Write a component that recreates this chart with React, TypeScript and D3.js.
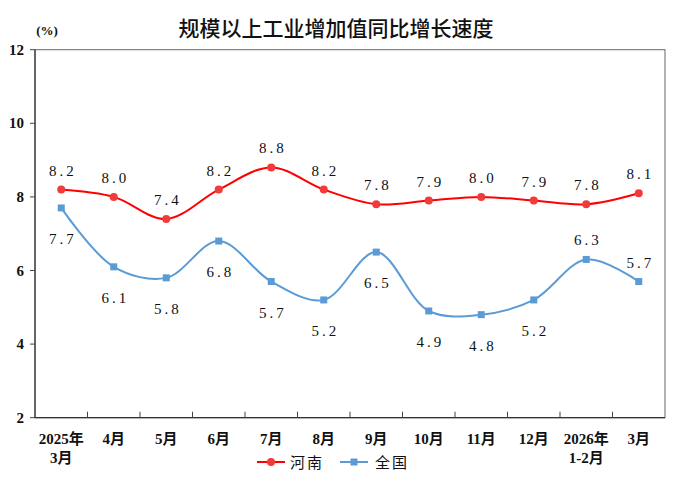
import React from "react";
import * as d3 from "d3";

const categories = ["2025年\n3月", "4月", "5月", "6月", "7月", "8月", "9月", "10月", "11月", "12月", "2026年\n1-2月", "3月"];
const henan = [8.2, 8.0, 7.4, 8.2, 8.8, 8.2, 7.8, 7.9, 8.0, 7.9, 7.8, 8.1];
const national = [7.7, 6.1, 5.8, 6.8, 5.7, 5.2, 6.5, 4.9, 4.8, 5.2, 6.3, 5.7];
// label placement for the national series: 1 = below the point, -1 = above
const nationalLabelSide = [1, 1, 1, 1, 1, 1, 1, 1, 1, 1, -1, -1];
const yTicks = [2, 4, 6, 8, 10, 12];

const W = 678;
const H = 479;
const left = 35;
const right = 665;
const top = 49.7;
const bottom = 417.7;

const RED = "#FF0000";
const RED_MARK = "#F23A3A";
const BLUE = "#5B9BD5";
const NUM_FONT = "'Liberation Serif', 'DejaVu Serif', serif";
const CJK_FONT = "'Liberation Serif', 'Noto Sans CJK SC', serif";
const LABEL_SPACING = 3;

export default function App() {
  const x = d3.scaleBand<number>().domain(d3.range(categories.length)).range([left, right]).padding(0);
  const y = d3.scaleLinear().domain([2, 12]).range([bottom, top]);
  const cx = (i: number) => (x(i) as number) + x.bandwidth() / 2;

  const line = d3
    .line<number>()
    .x((_, i) => cx(i))
    .y((d) => y(d))
    .curve(d3.curveCatmullRom.alpha(0.5));

  const boundaries = d3.range(1, categories.length).map((i) => x(i) as number);

  const valueLabel = (key: string, px: number, py: number, v: number) => (
    <text
      key={key}
      x={px + LABEL_SPACING / 2}
      y={py}
      textAnchor="middle"
      fontFamily={NUM_FONT}
      fontSize={15}
      letterSpacing={LABEL_SPACING}
      fill="#111"
    >
      {v.toFixed(1)}
    </text>
  );

  return (
    <svg width={W} height={H} style={{ position: "absolute", left: 0, top: 0, background: "#fff" }}>
      <text x={336} y={36} textAnchor="middle" fontFamily="'Noto Sans CJK SC', sans-serif" fontSize={21} fontWeight={500} fill="#111">
        规模以上工业增加值同比增长速度
      </text>
      <text x={47} y={35} textAnchor="middle" fontFamily={CJK_FONT} fontSize={13} fontWeight="bold" fill="#111">
        (%)
      </text>

      {/* frame */}
      <rect x={left} y={top} width={right - left} height={bottom - top} fill="none" stroke="#666" strokeWidth={1} />
      <line x1={left} x2={left} y1={top} y2={bottom} stroke="#333" strokeWidth={1.2} />
      <line x1={left} x2={right} y1={bottom} y2={bottom} stroke="#333" strokeWidth={1.2} />

      {/* y axis */}
      {yTicks.map((t) => (
        <g key={t}>
          <line x1={left - 5} x2={left} y1={y(t)} y2={y(t)} stroke="#444" />
          <text x={24} y={y(t) + 5} textAnchor="end" fontFamily={NUM_FONT} fontSize={15} fontWeight="bold" fill="#111">
            {t}
          </text>
        </g>
      ))}

      {/* x axis */}
      {boundaries.map((b, i) => (
        <line key={i} x1={b} x2={b} y1={bottom} y2={bottom - 6} stroke="#444" />
      ))}
      {categories.map((c, i) => (
        <text key={i} textAnchor="middle" fontFamily={CJK_FONT} fontSize={15} fontWeight="bold" fill="#111">
          {c.split("\n").map((s, k) => (
            <tspan key={k} x={cx(i)} y={444 + k * 19}>
              {s}
            </tspan>
          ))}
        </text>
      ))}

      {/* national series */}
      <path d={line(national) || ""} fill="none" stroke={BLUE} strokeWidth={2} />
      {national.map((v, i) => (
        <rect key={i} x={cx(i) - 3.5} y={y(v) - 3.5} width={7} height={7} fill={BLUE} />
      ))}
      {national.map((v, i) =>
        valueLabel("n" + i, cx(i), y(v) + (nationalLabelSide[i] > 0 ? 36 : -14), v)
      )}

      {/* Henan series */}
      <path d={line(henan) || ""} fill="none" stroke={RED} strokeWidth={2} />
      {henan.map((v, i) => (
        <circle key={i} cx={cx(i)} cy={y(v)} r={4} fill={RED_MARK} />
      ))}
      {henan.map((v, i) => valueLabel("h" + i, cx(i), y(v) - 14, v))}

      {/* legend */}
      <line x1={257} x2={285} y1={462} y2={462} stroke={RED} strokeWidth={2} />
      <circle cx={271} cy={462} r={4} fill={RED_MARK} />
      <text x={290} y={468} fontFamily="'Noto Sans CJK SC', sans-serif" fontSize={15} letterSpacing={2} fill="#111">
        河南
      </text>
      <line x1={340} x2={368} y1={462} y2={462} stroke={BLUE} strokeWidth={2} />
      <rect x={350.5} y={458.5} width={7} height={7} fill={BLUE} />
      <text x={375} y={468} fontFamily="'Noto Sans CJK SC', sans-serif" fontSize={15} letterSpacing={2} fill="#111">
        全国
      </text>
    </svg>
  );
}
